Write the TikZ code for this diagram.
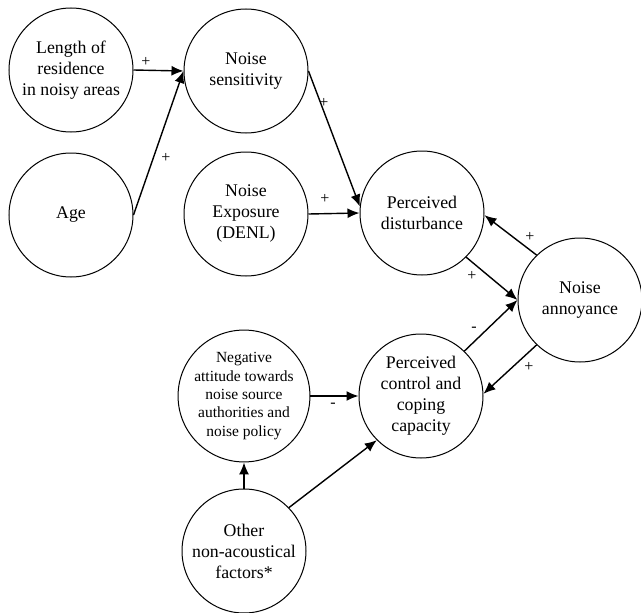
\documentclass[tikz,border=0pt]{standalone}
\usepackage{fontspec}
\setmainfont{Liberation Serif}
\usetikzlibrary{arrows.meta}
\begin{document}
\begin{tikzpicture}[x=1pt,y=-1pt,
  circ/.style={circle,draw,line width=1pt,minimum size=124pt,inner sep=0pt,align=center,font=\fontsize{17.8}{21}\selectfont},
  smallcirc/.style={circ,font=\fontsize{15.5}{18.3}\selectfont},
  conn/.style={line width=1.4pt,-{Latex[length=12pt,width=10pt]}},
  sign/.style={inner sep=0pt,font=\fontsize{16}{18}\selectfont}]
\useasboundingbox (0,0) rectangle (641,613);
\node[circ] (len) at (71,70) {Length of\\residence\\in noisy areas};
\node[circ] (sens) at (246,71) {Noise\\sensitivity};
\node[circ] (age) at (71,215) {Age};
\node[circ] (exp) at (246,214) {Noise\\Exposure\\(DENL)};
\node[circ] (dist) at (422,213) {Perceived\\disturbance};
\node[circ] (ann) at (580,300) {Noise\\annoyance};
\node[smallcirc] (neg) at (244,396) {Negative\\attitude towards\\noise source\\authorities and\\noise policy};
\node[circ] (ctrl) at (421,396) {Perceived\\control and\\coping\\capacity};
\node[circ] (oth) at (244,551) {Other\\non-acoustical\\factors*};

\draw[conn] (len.east) -- (sens.west);
\draw[conn] (age.east) -- (sens.west);
\draw[conn] (sens.east) -- (dist.174);
\draw[conn] (exp.east) -- (dist.west);
\draw[conn] (ann.134) -- (dist.-2);
\draw[conn] (dist.-45) -- (ann.west);
\draw[conn] (ctrl.46) -- (ann.west);
\draw[conn] (ann.226) -- (ctrl.2);
\draw[conn] (neg.east) -- (ctrl.west);
\draw[conn] (oth.north) -- (neg.south);
\draw[conn] (oth.44) -- (ctrl.225);

\node[sign] (s1) at (146,62) {+};
\node[sign] (s2) at (166,158) {+};
\node[sign] (s3) at (324,103) {+};
\node[sign] (s4) at (325,199) {+};
\node[sign] (s5) at (530,237) {+};
\node[sign] (s6) at (472,276) {+};
\node[sign] (s7) at (474,329) {-};
\node[sign] (s8) at (529,367) {+};
\node[sign] (s9) at (333,405) {-};
\end{tikzpicture}
\end{document}
